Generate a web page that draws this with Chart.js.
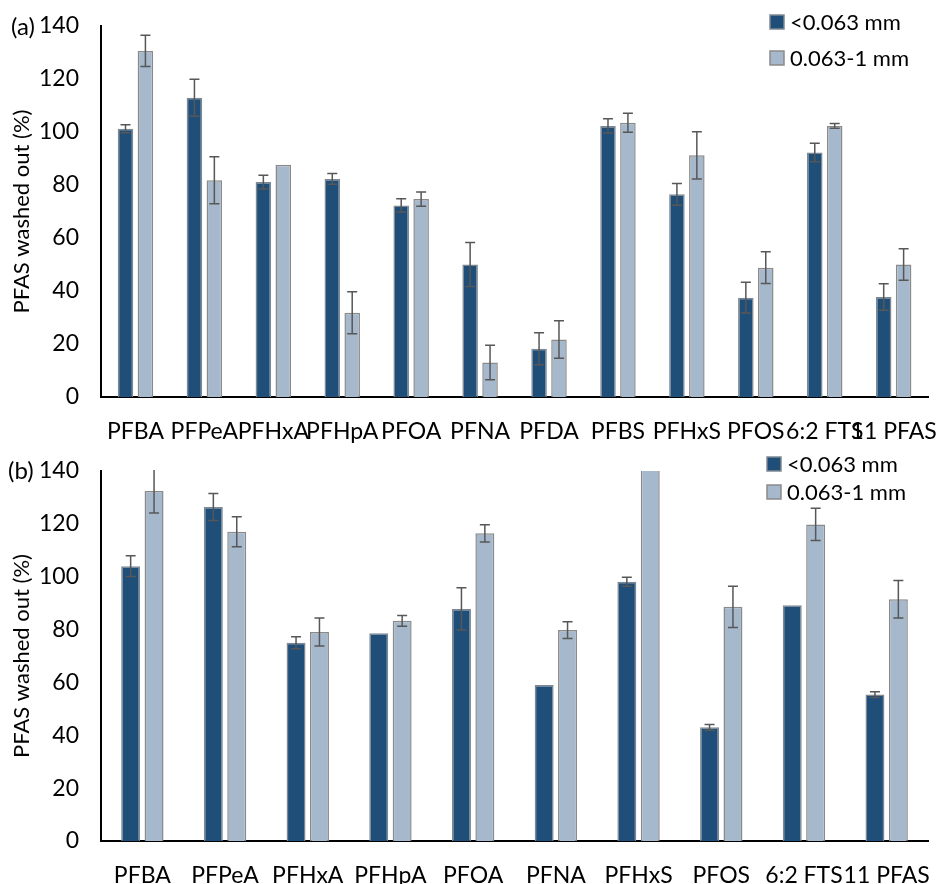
<!DOCTYPE html>
<html>
<head>
<meta charset="utf-8">
<script src="https://cdn.jsdelivr.net/npm/chart.js@4.4.0/dist/chart.umd.min.js"></script>
<style>
body { margin: 0; background: #fff; }
canvas { position: absolute; left: 0; }
#chartA { top: 0; }
#chartB { top: 444px; }
</style>
</head>
<body>
<canvas id="chartA" width="938" height="444"></canvas>
<canvas id="chartB" width="938" height="440"></canvas>
<script>
var seriesNames = ['<0.063 mm', '0.063-1 mm'];
var yTicks = [0, 20, 40, 60, 80, 100, 120, 140];

// panel (a)
var labelsA = ['PFBA', 'PFPeA', 'PFHxA', 'PFHpA', 'PFOA', 'PFNA', 'PFDA', 'PFBS', 'PFHxS', 'PFOS', '6:2 FTS', '11 PFAS'];
var fineA = [101.2, 112.9, 81.1, 82.3, 72.3, 50.0, 18.2, 102.3, 76.5, 37.5, 92.3, 37.7];
var coarseA = [130.6, 81.8, 87.6, 31.8, 74.7, 13.0, 21.7, 103.5, 91.2, 48.8, 102.3, 50.0];
var fineErrA = [1.5, 7.0, 2.6, 2.0, 2.5, 8.3, 6.0, 2.7, 4.1, 5.8, 3.5, 5.0];
var coarseErrA = [5.9, 8.9, 0, 7.9, 2.7, 6.5, 7.1, 3.6, 8.9, 6.0, 0.9, 5.9];

// panel (b)
var labelsB = ['PFBA', 'PFPeA', 'PFHxA', 'PFHpA', 'PFOA', 'PFNA', 'PFHxS', 'PFOS', '6:2 FTS', '11 PFAS'];
var fineB = [104.0, 126.4, 75.0, 78.6, 87.8, 59.0, 98.1, 43.0, 89.2, 55.4];
var coarseB = [132.4, 117.0, 79.1, 83.3, 116.4, 79.8, 150.0, 88.6, 119.8, 91.5];
var fineErrB = [3.9, 5.1, 2.3, 0, 8.0, 0, 1.7, 1.1, 0, 1.1];
var coarseErrB = [8.3, 5.7, 5.3, 2.0, 3.3, 3.2, 0, 7.8, 6.1, 7.1];

var FONT = 'Lato';

var errorBars = {
    id: 'errorBars',
    afterDatasetsDraw: function(chart) {
        var ctx = chart.ctx;
        var area = chart.chartArea;
        var y = chart.scales.y;
        ctx.save();
        ctx.beginPath();
        ctx.rect(area.left, area.top - 1, area.right - area.left, area.bottom - area.top + 1);
        ctx.clip();
        ctx.strokeStyle = '#575757';
        ctx.lineWidth = 1.5;
        chart.data.datasets.forEach(function(ds, i) {
            var meta = chart.getDatasetMeta(i);
            meta.data.forEach(function(bar, j) {
                var err = ds.errors[j];
                if (!err) return;
                var top = y.getPixelForValue(ds.data[j] + err);
                var bot = y.getPixelForValue(ds.data[j] - err);
                var x = bar.x;
                ctx.beginPath();
                ctx.moveTo(x, top); ctx.lineTo(x, bot);
                ctx.moveTo(x - 5, top); ctx.lineTo(x + 5, top);
                ctx.moveTo(x - 5, bot); ctx.lineTo(x + 5, bot);
                ctx.stroke();
            });
        });
        ctx.restore();
    }
};

var panelDecor = {
    id: 'panelDecor',
    afterDraw: function(chart, args, opts) {
        var ctx = chart.ctx;
        ctx.save();
        ctx.textBaseline = 'middle';
        ctx.fillStyle = '#000';
        ctx.font = '24px ' + FONT;
        ctx.fillText(opts.letter, opts.letterX, opts.letterY);
        ctx.font = '22px ' + FONT;
        chart.data.datasets.forEach(function(ds, i) {
            var y = opts.legendY + i * opts.legendGap;
            ctx.fillStyle = ds.backgroundColor;
            ctx.fillRect(opts.legendX, y - 7, 14, 14);
            ctx.strokeStyle = ds.borderColor;
            ctx.lineWidth = 1.5;
            ctx.strokeRect(opts.legendX, y - 7, 14, 14);
            ctx.fillStyle = '#000';
            ctx.fillText(ds.label, opts.legendX + 20, y + 1);
        });
        ctx.restore();
    }
};

function makeChart(id, labels, fine, coarse, fineErr, coarseErr, cfg) {
    var ctx = document.getElementById(id).getContext('2d');
    return new Chart(ctx, {
        type: 'bar',
        data: {
            labels: labels,
            datasets: [{
                label: seriesNames[0],
                data: fine,
                errors: fineErr,
                backgroundColor: '#1F4E79',
                borderColor: '#7E8892',
                borderWidth: 1.5,
                categoryPercentage: cfg.catPct,
                barPercentage: cfg.barPct,
                clip: 0
            }, {
                label: seriesNames[1],
                data: coarse,
                errors: coarseErr,
                backgroundColor: '#A6B8CB',
                borderColor: '#8A8A8A',
                borderWidth: 1.5,
                categoryPercentage: cfg.catPct,
                barPercentage: cfg.barPct,
                clip: 0
            }]
        },
        options: {
            responsive: false,
            animation: false,
            layout: { padding: { top: cfg.top, right: cfg.right, left: 0, bottom: 0 } },
            plugins: {
                legend: { display: false },
                tooltip: { enabled: false },
                panelDecor: cfg.decor
            },
            scales: {
                x: {
                    // tick marks hidden, tickLength only pushes the labels down
                    grid: { display: false, drawTicks: true, tickLength: 20 },
                    border: { display: true, color: '#000', width: 2 },
                    ticks: { color: '#000', font: { family: FONT, size: 23 }, padding: 1, maxRotation: 0, autoSkip: false },
                    afterFit: function(s) { s.height = cfg.xHeight; }
                },
                y: {
                    min: 0,
                    max: 140,
                    grid: { display: false, drawTicks: true, tickLength: 20 },
                    border: { display: true, color: '#000', width: 2 },
                    afterBuildTicks: function(s) { s.ticks = yTicks.map(function(v) { return { value: v }; }); },
                    ticks: { color: '#000', font: { family: FONT, size: 23 }, padding: 2 },
                    title: { display: true, text: 'PFAS washed out (%)', color: '#000', font: { family: FONT, size: 22 }, padding: { top: 9, bottom: 0 } },
                    afterFit: function(s) { s.width = 101; }
                }
            }
        },
        plugins: [errorBars, panelDecor]
    });
}

makeChart('chartA', labelsA, fineA, coarseA, fineErrA, coarseErrA, {
    top: 26, right: 7, xHeight: 47, catPct: 0.578, barPct: 0.78,
    decor: { letter: '(a)', letterX: 11, letterY: 27, legendX: 770, legendY: 22, legendGap: 36 }
});

makeChart('chartB', labelsB, fineB, coarseB, fineErrB, coarseErrB, {
    top: 27, right: 10, xHeight: 43, catPct: 0.566, barPct: 0.81,
    decor: { letter: '(b)', letterX: 8, letterY: 27, legendX: 767, legendY: 20, legendGap: 28 }
});
</script>
</body>
</html>
